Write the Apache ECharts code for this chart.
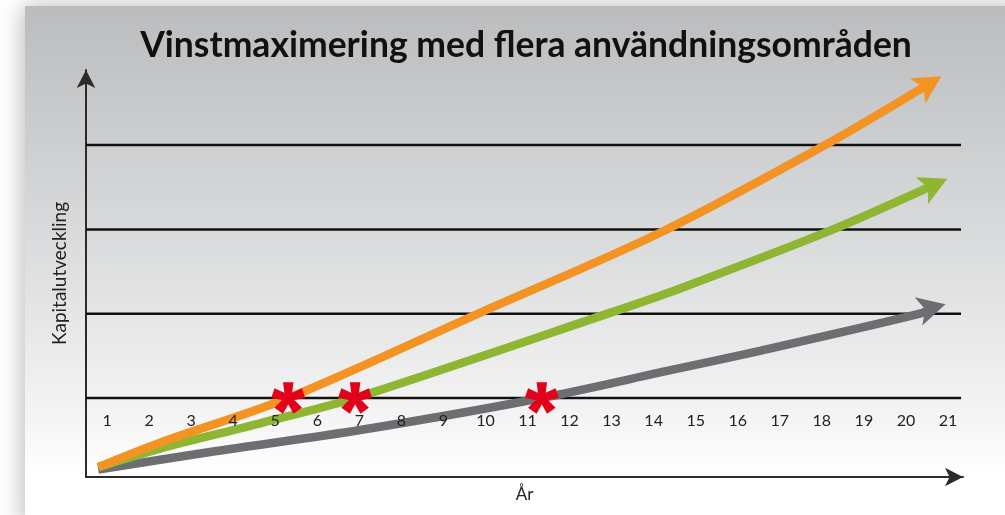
<!DOCTYPE html>
<html><head><meta charset="utf-8">
<script src="https://cdn.jsdelivr.net/npm/echarts@6/dist/echarts.min.js"></script>
<style>html,body{margin:0;padding:0;background:#fff}#c{width:1005px;height:515px}</style>
</head><body><div id="c"></div>
<script>
// ---- data ----
const years = [1,2,3,4,5,6,7,8,9,10,11,12,13,14,15,16,17,18,19,20,21];
const gridLevels = [1, 2, 3, 4];
const orangeSeries = [[0.79,0.18],[2.26,0.47],[5.31,1.0],[9.87,2.01],[14.15,2.96],[18.11,4.01],[20.56,4.73]];
const greenSeries  = [[0.79,0.18],[2.26,0.40],[4.64,0.70],[6.9,1.0],[12.96,2.01],[14.63,2.30],[18.27,3.0],[20.68,3.53]];
const graySeries   = [[0.79,0.15],[3.45,0.36],[7.02,0.62],[11.34,1.0],[14.4,1.33],[16.53,1.56],[20.33,2.0],[20.62,2.07]];
const breakEvenX   = [5.31, 6.9, 11.34];
const breakEvenY   = [1, 1, 1];
const titleText = 'Vinstmaximering med flera användningsområden';
const xName = 'År';
const yName = 'Kapitalutveckling';

// ---- styles ----
const FONT = 'Lato';
const C_OR = '#f39324', C_GR = '#8fb632', C_GY = '#6d6e71', C_RED = '#e3001b';
const ARROW_W = 22, ARROW_H = 28;

function asteriskPath() {
  const R = 16, t0 = 3.1, t1 = 5.2;
  const angs = [90, 18, 162, 234, 306];
  let p = '';
  angs.forEach(a => {
    const r = a * Math.PI / 180;
    const dx = Math.cos(r), dy = -Math.sin(r);
    const nx = Math.sin(r), ny = Math.cos(r);
    const pts = [
      [t0*nx, t0*ny], [R*dx + t1*nx, R*dy + t1*ny],
      [R*dx - t1*nx, R*dy - t1*ny], [-t0*nx, -t0*ny]
    ];
    p += 'M' + pts.map(q => q[0].toFixed(2) + ',' + q[1].toFixed(2)).join('L') + 'Z';
  });
  return 'path://' + p;
}

function lineSeries(data, color, z) {
  return {
    type: 'line', data: data, smooth: 0.3, symbol: 'none', z: z,
    lineStyle: { color: color, width: 8.5, cap: 'butt' }, silent: true
  };
}
function arrowSeries(data, color, angleDeg, z) {
  const a = angleDeg * Math.PI / 180;
  return {
    type: 'scatter', z: z, silent: true,
    data: [{ value: data[data.length - 1], symbolRotate: angleDeg - 90,
             symbolOffset: [ARROW_H / 2 * Math.cos(a), -ARROW_H / 2 * Math.sin(a)] }],
    symbol: 'arrow', symbolSize: [ARROW_W, ARROW_H],
    itemStyle: { color: color, opacity: 1 }
  };
}
function gridLineSeries(v) {
  return {
    type: 'line', data: [[0.5, v], [21.31, v]], clip: false, symbol: 'none', z: 1, silent: true,
    lineStyle: { color: '#111', width: 2.5 }
  };
}

const chart = echarts.init(document.getElementById('c'));
chart.setOption({
  animation: false,
  backgroundColor: '#ffffff',
  graphic: [{
    type: 'rect', z: -100, silent: true,
    shape: { x: 25, y: 6, width: 1000, height: 520 },
    style: {
      fill: new echarts.graphic.LinearGradient(0, 0, 0, 1, [
        { offset: 0, color: '#bbbcbe' },
        { offset: 0.45, color: '#dadbdc' },
        { offset: 0.8, color: '#f5f5f5' },
        { offset: 0.9, color: '#ffffff' },
        { offset: 1, color: '#ffffff' }
      ]),
      shadowBlur: 22, shadowColor: 'rgba(0,0,0,0.28)', shadowOffsetX: -2
    }
  }],
  title: {
    text: titleText, left: 521, top: 23, textAlign: 'center',
    textStyle: { fontFamily: FONT, fontWeight: 'bold', fontSize: 35.5, color: '#111' }
  },
  grid: { left: 86, right: 42, top: 70, bottom: 38, containLabel: false },
  xAxis: {
    type: 'value', min: 0.5, max: 21.357, z: 8,
    name: xName, nameLocation: 'middle', nameGap: 9,
    nameTextStyle: { fontFamily: FONT, fontSize: 17, color: '#222' },
    axisLine: { show: true, onZero: false, symbol: ['none', 'arrow'], symbolSize: [14, 18],
      lineStyle: { color: '#2b2b2b', width: 2 } },
    axisTick: { show: false },
    splitLine: { show: false },
    axisLabel: { show: true, inside: true, margin: 48, customValues: years,
      fontFamily: FONT, fontSize: 16, color: '#222', formatter: v => String(v) }
  },
  yAxis: {
    type: 'value', min: 0.063, max: 4.891,
    name: yName, nameLocation: 'middle', nameGap: 17,
    nameTextStyle: { fontFamily: FONT, fontSize: 19, color: '#222' },
    axisLine: { show: true, onZero: false, symbol: ['none', 'arrow'], symbolSize: [14, 18],
      lineStyle: { color: '#2b2b2b', width: 2 } },
    axisTick: { show: false }, axisLabel: { show: false }, splitLine: { show: false }
  },
  series: [
    ...gridLevels.map(gridLineSeries),
    lineSeries(graySeries, C_GY, 3),
    lineSeries(greenSeries, C_GR, 4),
    lineSeries(orangeSeries, C_OR, 5),
    arrowSeries(graySeries, C_GY, 15, 6),
    arrowSeries(greenSeries, C_GR, 25, 6),
    arrowSeries(orangeSeries, C_OR, 32, 6),
    {
      type: 'scatter', z: 10, silent: true,
      data: breakEvenX.map((x, i) => [x, breakEvenY[i]]),
      symbol: asteriskPath(), symbolSize: [34, 33], symbolKeepAspect: true,
      itemStyle: { color: C_RED, opacity: 1 }
    }
  ]
});
</script>
</body></html>
